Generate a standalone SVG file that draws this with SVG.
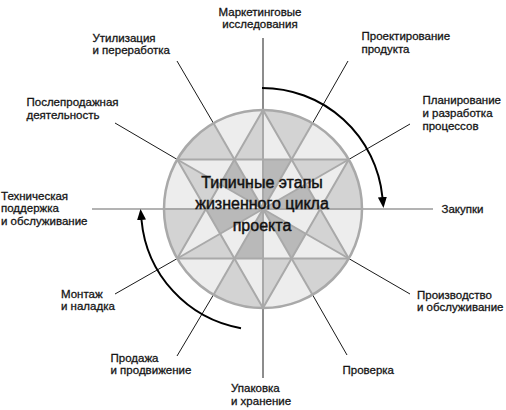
<svg xmlns="http://www.w3.org/2000/svg" width="506" height="410" viewBox="0 0 506 410">
<style>
.bg{fill:#ffffff}
.lbl{font-family:"Liberation Sans",Arial,sans-serif;font-size:11.5px;fill:#151515;stroke:#151515;stroke-width:0.3px}
.ttl{font-family:"Liberation Sans",Arial,sans-serif;font-size:16px;fill:#111;stroke:#111;stroke-width:0.45px;text-anchor:middle}
.light{fill:#ededed}
.mid{fill:#d3d3d3}
.dark{fill:#b9b9b9}
.grid{stroke:#a9a9a9;stroke-width:2;fill:none;stroke-linejoin:round}
.rim{stroke:#a9a9a9;stroke-width:2.5;fill:none}
.spoke{stroke:#1a1a1a;stroke-width:1}
.hspoke{stroke:#9a9a9a;stroke-width:1.6}
.arc{stroke:#000;stroke-width:2;fill:none}
</style>
<defs>
<marker id="ah" markerUnits="userSpaceOnUse" markerWidth="12" markerHeight="10" refX="0" refY="4.5" orient="auto">
<path d="M0,0 L11,4.5 L0,9 Z" fill="#000"/>
</marker>
</defs>
<rect class="bg" x="0" y="0" width="506" height="410"/>

<g id="connectors">
<line class="spoke" x1="263" y1="110" x2="263" y2="38"/>
<line class="spoke" x1="312.5" y1="123.3" x2="348" y2="61"/>
<line class="spoke" x1="348.7" y1="159.5" x2="410" y2="124"/>
<line class="hspoke" x1="362" y1="209" x2="433" y2="209"/>
<line class="spoke" x1="348.7" y1="258.5" x2="410" y2="294"/>
<line class="spoke" x1="312.5" y1="294.7" x2="347" y2="355"/>
<line class="spoke" x1="263" y1="308" x2="263" y2="378"/>
<line class="spoke" x1="213.5" y1="294.7" x2="177" y2="356"/>
<line class="spoke" x1="177.3" y1="258.5" x2="115" y2="294"/>
<line class="hspoke" x1="164" y1="209" x2="92" y2="209"/>
<line class="spoke" x1="177.3" y1="159.5" x2="115" y2="123"/>
<line class="spoke" x1="213.5" y1="123.3" x2="177" y2="61"/>
<path class="arc" d="M262,88 A121,121 0 0 1 382.4,197" marker-end="url(#ah)"/>
<path class="arc" d="M241,328.2 A121,121 0 0 1 141.5,220" marker-end="url(#ah)"/>
</g>

<g id="wheel">
<circle class="light" cx="263" cy="209" r="99"/>
<path class="mid" d="M320.16,209 L362,209 A99,99 0 0 0 348.74,159.5 Z"/>
<path class="mid" d="M291.58,159.5 L312.5,123.26 A99,99 0 0 0 263,110 Z"/>
<path class="mid" d="M234.42,159.5 L213.5,123.26 A99,99 0 0 0 177.26,159.5 Z"/>
<path class="mid" d="M205.84,209 L164,209 A99,99 0 0 0 177.26,258.5 Z"/>
<path class="mid" d="M234.42,258.5 L213.5,294.74 A99,99 0 0 0 263,308 Z"/>
<path class="mid" d="M291.58,258.5 L312.5,294.74 A99,99 0 0 0 348.74,258.5 Z"/>
<polygon class="mid" points="348.74,159.5 305.87,184.25 291.58,159.5"/>
<polygon class="mid" points="263,110 263,159.5 234.42,159.5"/>
<polygon class="mid" points="177.26,159.5 220.13,184.25 205.84,209"/>
<polygon class="mid" points="177.26,258.5 220.13,233.75 234.42,258.5"/>
<polygon class="mid" points="263,308 263,258.5 291.58,258.5"/>
<polygon class="mid" points="348.74,258.5 305.87,233.75 320.16,209"/>
<polygon class="dark" points="263,209 320.16,209 305.87,184.25"/>
<polygon class="dark" points="263,209 291.58,159.5 263,159.5"/>
<polygon class="dark" points="263,209 234.42,159.5 220.13,184.25"/>
<polygon class="dark" points="263,209 205.84,209 220.13,233.75"/>
<polygon class="dark" points="263,209 234.42,258.5 263,258.5"/>
<polygon class="dark" points="263,209 291.58,258.5 305.87,233.75"/>
<line class="grid" x1="362" y1="209" x2="164" y2="209"/>
<line class="grid" x1="348.74" y1="159.5" x2="177.26" y2="258.5"/>
<line class="grid" x1="312.5" y1="123.26" x2="213.5" y2="294.74"/>
<line class="grid" x1="263" y1="110" x2="263" y2="308"/>
<line class="grid" x1="213.5" y1="123.26" x2="312.5" y2="294.74"/>
<line class="grid" x1="177.26" y1="159.5" x2="348.74" y2="258.5"/>
<polygon class="grid" points="263,110 177.26,258.5 348.74,258.5"/>
<polygon class="grid" points="263,308 348.74,159.5 177.26,159.5"/>
<circle class="rim" cx="263" cy="209" r="99"/>
<text class="ttl" x="262" y="188">Типичные этапы</text>
<text class="ttl" x="262" y="209">жизненного цикла</text>
<text class="ttl" x="262" y="230.5">проекта</text>
</g>

<g id="n-marketing"><text class="lbl" text-anchor="middle" x="260" y="15.5">Маркетинговые</text><text class="lbl" text-anchor="middle" x="260" y="28">исследования</text></g>
<g id="n-design"><text class="lbl" x="361.5" y="40">Проектирование</text><text class="lbl" x="361.5" y="52.5">продукта</text></g>
<g id="n-planning"><text class="lbl" x="422.5" y="103.5">Планирование</text><text class="lbl" x="422.5" y="116.5">и разработка</text><text class="lbl" x="422.5" y="129.5">процессов</text></g>
<g id="n-purchase"><text class="lbl" x="441.5" y="212.5">Закупки</text></g>
<g id="n-production"><text class="lbl" x="417" y="298.5">Производство</text><text class="lbl" x="417" y="311">и обслуживание</text></g>
<g id="n-check"><text class="lbl" x="342.5" y="374">Проверка</text></g>
<g id="n-packing"><text class="lbl" x="231" y="392">Упаковка</text><text class="lbl" x="231" y="404.5">и хранение</text></g>
<g id="n-sales"><text class="lbl" x="110.5" y="361.5">Продажа</text><text class="lbl" x="110.5" y="374">и продвижение</text></g>
<g id="n-install"><text class="lbl" x="61" y="297.5">Монтаж</text><text class="lbl" x="61" y="309.5">и наладка</text></g>
<g id="n-support"><text class="lbl" x="1" y="199.5">Техническая</text><text class="lbl" x="1" y="212">поддержка</text><text class="lbl" x="1" y="224.5">и обслуживание</text></g>
<g id="n-aftersale"><text class="lbl" x="26.5" y="106">Послепродажная</text><text class="lbl" x="26.5" y="118.5">деятельность</text></g>
<g id="n-recycle"><text class="lbl" x="92.5" y="41.5">Утилизация</text><text class="lbl" x="92.5" y="54">и переработка</text></g>
</svg>
